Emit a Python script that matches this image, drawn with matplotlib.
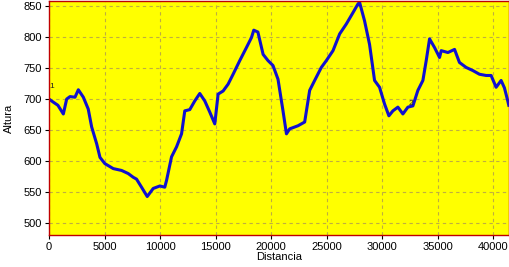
import matplotlib
matplotlib.use('Agg')
import matplotlib.pyplot as plt

# Elevation profile
distancia = [0, 390, 800, 1290, 1590, 1890, 2340, 2640, 3090, 3530, 3840, 4290,
             4590, 5030, 5780, 6530, 7130, 7580, 7880, 8330, 8840, 9380, 9980,
             10420, 10580, 11030, 11480, 11930, 12220, 12670, 13120, 13570,
             14020, 14470, 14920, 15220, 15670, 16120, 16570, 17170, 17770,
             18220, 18430, 18800, 19270, 19710, 20160, 20610, 21060, 21370,
             21660, 22410, 23010, 23460, 23910, 24510, 24960, 25560, 26160,
             26760, 27350, 27800, 27950, 28400, 28850, 29300, 29750, 30200,
             30590, 30950, 31400, 31850, 32300, 32750, 33200, 33650, 33950,
             34250, 34700, 35150, 35300, 35900, 36500, 36940, 37540, 38140,
             38740, 39340, 39790, 40240, 40690, 40990, 41290, 41380]
altura = [700, 695, 690, 676, 700, 704, 703, 715, 703, 684, 655, 628,
          606, 596, 588, 585, 580, 574, 571, 558, 543, 556, 560,
          558, 569, 607, 623, 644, 681, 683, 697, 709,
          697, 679, 660, 708, 713, 724, 740, 762, 783,
          799, 811, 808, 772, 762, 754, 732, 681, 644,
          652, 657, 663, 714, 730, 751, 762, 778, 805,
          821, 839, 853, 856, 826, 788, 730, 719, 692,
          673, 681, 687, 676, 687, 689, 714, 730, 762,
          797, 783, 767, 778, 775, 780, 759, 751, 746,
          740, 738, 738, 719, 730, 718, 697, 690]

plt.rcParams['font.family'] = ['Liberation Sans', 'DejaVu Sans']
plt.rcParams['font.size'] = 8

fig = plt.figure(figsize=(5.1, 2.67), dpi=100)
ax = fig.add_axes([49 / 510, 32 / 267, 460 / 510, 234 / 267])
ax.set_facecolor('#ffff00')

ax.plot(distancia, altura, color='#1010d0', linewidth=2.2, solid_joinstyle='round')

ax.set_xlim(0, 41400)
ax.set_ylim(481, 858)
ax.set_xticks(range(0, 40001, 5000))
ax.set_yticks(range(500, 851, 50))
ax.grid(True, color='#bfae40', linestyle=(0, (3, 3)), linewidth=0.8)

for s in ax.spines.values():
    s.set_color('#c00000')
    s.set_linewidth(1)

ax.tick_params(length=3, width=0.8, pad=2, labelsize=8)
ax.set_xlabel('Distancia', fontsize=8, labelpad=0)
ax.set_ylabel('Altura', fontsize=8, labelpad=7)

# waypoint labels
ax.text(distancia[0] + 60, 718, '1', fontsize=6, color='#202020')
ax.text(32350, 690, '2', fontsize=6, color='#202020')

fig.savefig('out.png', dpi=100)
